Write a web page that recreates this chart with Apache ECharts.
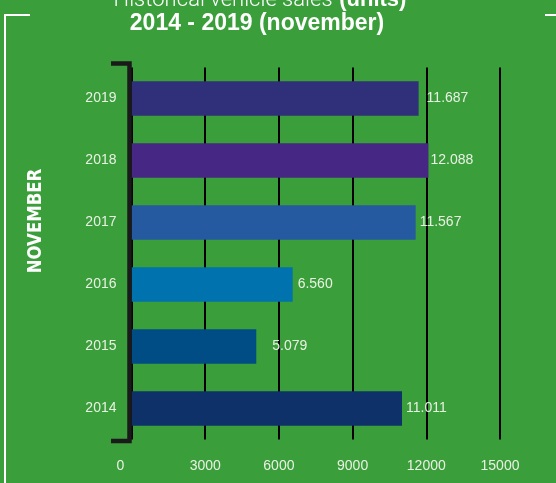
<!DOCTYPE html>
<html><head><meta charset="utf-8">
<script src="https://cdn.jsdelivr.net/npm/echarts@6/dist/echarts.min.js"></script>
<style>html,body{margin:0;padding:0;background:#3a9e3a;}#c{width:556px;height:483px;}</style>
</head><body><div id="c"></div>
<script>
var years = ['2014','2015','2016','2017','2018','2019'];
var sales = [11011, 5079, 6560, 11567, 12088, 11687];
var barColors = ['#0f316a','#004c85','#0072ad','#2559a0','#462784','#2f2f7a'];
var labelGaps = [4, 16, 5, 4, 2, 8];
var xTicks = [0, 3000, 6000, 9000, 12000, 15000];

var G = {left: 131.5, right: 56, top: 67.5, bottom: 43.5};
var txt = '#e9f1e4';
var chart = echarts.init(document.getElementById('c'));
function fmt(v){ return String(v).replace(/\B(?=(\d{3})+(?!\d))/g, '.'); }

chart.setOption({
  backgroundColor: '#3a9e3a',
  animation: false,
  grid: {left: G.left, right: G.right, top: G.top, bottom: G.bottom},
  xAxis: {
    type: 'value', min: 0, max: 15000, interval: 3000,
    axisLine: {show: false}, axisTick: {show: false},
    splitLine: {show: true, lineStyle: {color: '#000', width: 2}},
    axisLabel: {color: txt, fontFamily: 'Liberation Sans', fontSize: 14, margin: 20,
      formatter: function(v){ return v === 0 ? '{z|0}' : String(v); },
      rich: {z: {color: txt, fontFamily: 'Liberation Sans', fontSize: 14, padding: [0, 22, 0, 0]}}}
  },
  yAxis: {
    type: 'category', data: years,
    axisLine: {show: false}, axisTick: {show: false},
    axisLabel: {color: txt, fontFamily: 'Liberation Sans', fontSize: 14, margin: 15}
  },
  series: [{
    type: 'bar', barWidth: '56%',
    data: sales.map(function(v, i){
      return {value: v, itemStyle: {color: barColors[i]}, label: {distance: labelGaps[i]}};
    }),
    label: {show: true, position: 'right', color: txt, fontFamily: 'Liberation Sans', fontSize: 14,
      formatter: function(p){ return fmt(p.value); }}
  }],
  graphic: [
    {type: 'text', x: 260, y: 11,
     style: {text: '{a|Historical vehicle sales}  {b|(units)}', textAlign: 'center', textVerticalAlign: 'bottom',
       rich: {a: {fontFamily: 'Roboto', fontWeight: 300, fontSize: 22, fill: '#fff'},
              b: {fontFamily: 'Liberation Sans', fontWeight: 'bold', fontSize: 22, fill: '#fff'}}}},
    {type: 'text', x: 257, y: 12,
     style: {text: '2014 - 2019 (november)', textAlign: 'center', textVerticalAlign: 'top',
       fill: '#fff', font: 'bold 23px "Liberation Sans"'}},
    {type: 'polyline', shape: {points: [[111, 63.5], [129.5, 63.5], [129.5, 441], [111, 441]]},
     style: {stroke: '#1a1a1a', lineWidth: 4.5, fill: null}, z: 10},
    {type: 'polyline', shape: {points: [[30, 15], [5, 15], [5, 490]]},
     style: {stroke: '#fff', lineWidth: 2, fill: null}},
    {type: 'line', shape: {x1: 545, y1: 15, x2: 560, y2: 15},
     style: {stroke: '#fff', lineWidth: 2}},
    {type: 'text', x: 26, y: 221, rotation: Math.PI / 2, scaleX: 0.92, scaleY: 1,
     style: {text: 'NOVEMBER', fill: '#fff', font: 'bold 20px "DejaVu Sans Condensed"',
             textAlign: 'center', textVerticalAlign: 'top'}}
  ]
});
</script></body></html>
